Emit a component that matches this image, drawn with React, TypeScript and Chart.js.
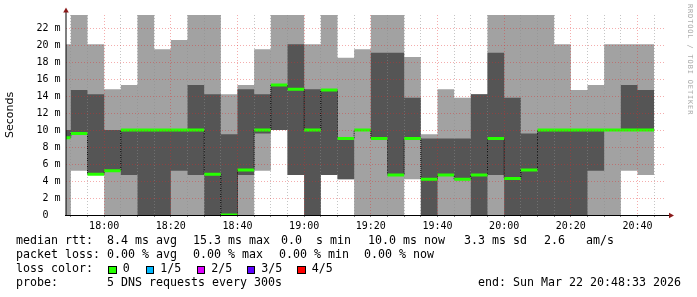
import React, { useEffect, useRef } from 'react';
import { Chart, registerables } from 'chart.js';

Chart.register(...registerables);

// ---------- data ----------
const RANGE_START = '17:48:33';
const RANGE_END = '20:48:33';
const SAMPLE_STARTS = [
  '17:45', '17:50', '17:55', '18:00', '18:05', '18:10', '18:15', '18:20', '18:25',
  '18:30', '18:35', '18:40', '18:45', '18:50', '18:55', '19:00', '19:05', '19:10',
  '19:15', '19:20', '19:25', '19:30', '19:35', '19:40', '19:45', '19:50', '19:55',
  '20:00', '20:05', '20:10', '20:15', '20:20', '20:25', '20:30', '20:35', '20:40',
];
const SAMPLE_END = '20:45';
// five sorted pings per sample (ms): min, 2nd, median, 4th, max
const PING_MIN = [0, 5.2, 4.8, 0, 0, 0, 0, 0, 0, 0, 0, 0, 5.2, 10.0, 4.7, 0, 4.7, 4.2, 0, 0, 0, 4.2, 0, 0, 0, 0, 0, 0, 0, 0, 0, 0, 0, 0, 5.2, 4.7];
const PING_LOW = [9.1, 9.6, 4.8, 5.2, 4.7, 0, 0, 5.2, 4.7, 0, 0, 4.7, 9.6, 10.0, 4.7, 0, 4.7, 4.2, 10.0, 9.0, 4.7, 9.0, 0, 4.7, 4.2, 0, 4.7, 0, 0, 0, 0, 0, 5.2, 10.0, 10.0, 10.0];
const MEDIAN_RTT = [9.1, 9.6, 4.8, 5.2, 10.0, 10.0, 10.0, 10.0, 10.0, 4.8, 0.0, 5.3, 10.0, 15.3, 14.8, 10.0, 14.7, 9.0, 10.0, 9.0, 4.7, 9.0, 4.2, 4.7, 4.2, 4.7, 9.0, 4.3, 5.3, 10.0, 10.0, 10.0, 10.0, 10.0, 10.0, 10.0];
const PING_HIGH = [10.0, 14.7, 14.2, 10.0, 10.0, 10.0, 10.0, 10.0, 15.3, 14.2, 9.5, 14.8, 14.2, 15.3, 20.1, 14.8, 14.7, 9.0, 10.0, 19.1, 19.1, 13.8, 9.0, 9.0, 9.0, 14.2, 19.1, 13.8, 9.6, 10.0, 10.0, 10.0, 10.0, 10.0, 15.3, 14.7];
const PING_MAX = [20.1, 25, 20.1, 14.8, 15.3, 25, 19.5, 20.6, 25, 25, 14.2, 15.3, 19.5, 25, 25, 20.1, 25, 18.5, 19.5, 25, 25, 18.6, 9.5, 14.8, 13.8, 14.2, 25, 25, 25, 25, 20.1, 14.7, 15.3, 20.1, 20.1, 20.1];
const Y_TICKS = [0, 1, 2, 3, 4, 5, 6, 7, 8, 9, 10, 11, 12, 13, 14, 15, 16, 17, 18, 19, 20, 21, 22, 23];
const Y_LABELED = [0, 2, 4, 6, 8, 10, 12, 14, 16, 18, 20, 22];
const X_LABELS = ['18:00', '18:20', '18:40', '19:00', '19:20', '19:40', '20:00', '20:20', '20:40'];
const Y_MAX_MS = 23.53;

const LOSS_LEGEND = ['0', '1/5', '2/5', '3/5', '4/5'];
const LOSS_COLORS = ['#26ff00', '#00b8ff', '#dd00ff', '#5e00ff', '#ff0000'];

// ---------- helpers ----------
const toMin = (s: string) => {
  const [h, m, sec] = s.split(':').map(Number);
  return h * 60 + m + (sec || 0) / 60;
};
const pad2 = (n: number) => String(n).padStart(2, '0');
const fmtTime = (v: number) => `${pad2(Math.floor(v / 60))}:${pad2(Math.round(v % 60))}`;

const W = 697;
const H = 297;
const MONO = '"DejaVu Sans Mono", monospace';
const LEG_SIZE = 11.63;
const MAJOR_GRID = 'rgba(225,40,40,0.38)';
const MINOR_GRID = 'rgba(140,140,140,0.5)';

const axesPlugin = {
  id: 'rrdAxes',
  afterDraw(chart: any) {
    const { ctx, chartArea } = chart;
    const { left, right, top, bottom } = chartArea;
    ctx.save();
    ctx.strokeStyle = '#000';
    ctx.lineWidth = 1;
    ctx.beginPath();
    ctx.moveTo(left, bottom + 1);
    ctx.lineTo(left, top - 4);
    ctx.stroke();
    ctx.beginPath();
    ctx.moveTo(left - 1, bottom + 0.5);
    ctx.lineTo(right + 3, bottom + 0.5);
    ctx.stroke();
    ctx.fillStyle = '#8a1a1a';
    ctx.beginPath();
    ctx.moveTo(left, top - 7.5);
    ctx.lineTo(left + 2.8, top - 2.5);
    ctx.lineTo(left - 2.8, top - 2.5);
    ctx.closePath();
    ctx.fill();
    ctx.beginPath();
    ctx.moveTo(right + 8, bottom + 0.5);
    ctx.lineTo(right + 3, bottom + 0.5 - 2.8);
    ctx.lineTo(right + 3, bottom + 0.5 + 2.8);
    ctx.closePath();
    ctx.fill();
    ctx.restore();
  },
};

export default function App() {
  const ref = useRef<HTMLCanvasElement>(null);

  useEffect(() => {
    const canvas = ref.current;
    if (!canvas) return;
    const starts = SAMPLE_STARTS.map(toMin);
    const end = toMin(SAMPLE_END);
    const xMin = toMin(RANGE_START);
    const xMax = toMin(RANGE_END);
    const stepPts = (vals: number[]) => [
      ...vals.map((v, i) => ({ x: starts[i], y: v })),
      { x: end, y: vals[vals.length - 1] },
    ];
    const medianSegs: any[] = [];
    MEDIAN_RTT.forEach((v, i) => {
      const x2 = i + 1 < starts.length ? starts[i + 1] : end;
      medianSegs.push({ x: starts[i], y: v }, { x: x2, y: v }, { x: x2, y: null });
    });
    const majorX = X_LABELS.map(toMin);
    const minorX: number[] = [];
    for (let t = Math.ceil(xMin / 5) * 5; t <= xMax; t += 5) minorX.push(t);

    const hidden = { borderWidth: 0, borderColor: 'rgba(0,0,0,0)', pointRadius: 0, stepped: 'before' as const };

    const chart = new Chart(canvas, {
      type: 'line',
      data: {
        datasets: [
          {
            label: 'median',
            data: medianSegs,
            borderColor: LOSS_COLORS[0],
            borderWidth: 3,
            borderCapStyle: 'butt',
            pointRadius: 0,
            spanGaps: false,
            fill: false,
            order: 0,
          },
          {
            label: 'median-step',
            data: stepPts(MEDIAN_RTT),
            borderColor: '#000',
            borderWidth: 1,
            borderDash: [1, 1],
            pointRadius: 0,
            stepped: 'before',
            fill: false,
            order: 1,
          },
          { label: 'p2', data: stepPts(PING_LOW), ...hidden, fill: false, order: 2 },
          { label: 'p4', data: stepPts(PING_HIGH), ...hidden, fill: '-1', backgroundColor: '#555555', order: 3 },
          { label: 'p1', data: stepPts(PING_MIN), ...hidden, fill: false, order: 4 },
          { label: 'p5', data: stepPts(PING_MAX), ...hidden, fill: '-1', backgroundColor: '#a2a2a2', order: 5 },
        ] as any,
      },
      options: {
        animation: false,
        responsive: false,
        maintainAspectRatio: false,
        devicePixelRatio: 1,
        events: [],
        layout: { padding: { left: 0, top: 15, right: 31, bottom: 0 } },
        plugins: {
          legend: { display: false },
          tooltip: { enabled: false },
          title: { display: false },
        },
        scales: {
          x: {
            type: 'linear',
            min: xMin,
            max: xMax,
            afterBuildTicks: (s: any) => {
              s.ticks = minorX.map((v) => ({ value: v }));
            },
            afterFit: (s: any) => {
              s.height = H - 215;
              s.paddingLeft = 0;
              s.paddingRight = 0;
            },
            grid: {
              z: 1,
              lineWidth: 1,
              color: (c: any) => (c.tick && majorX.includes(c.tick.value) ? MAJOR_GRID : MINOR_GRID),
              drawTicks: true,
              tickLength: 2,
              tickColor: 'rgba(0,0,0,0.5)',
              tickBorderDash: [],
            },
            border: { display: false, dash: [1, 2] },
            ticks: {
              autoSkip: false,
              maxRotation: 0,
              minRotation: 0,
              padding: 3,
              color: '#000',
              font: { family: MONO, size: 10 },
              callback: (v: any) => (majorX.includes(Number(v)) ? fmtTime(Number(v)) : ''),
            },
          },
          y: {
            type: 'linear',
            min: 0,
            max: Y_MAX_MS,
            afterBuildTicks: (s: any) => {
              s.ticks = Y_TICKS.map((v) => ({ value: v }));
            },
            afterFit: (s: any) => {
              s.width = 66;
              s.paddingTop = 0;
              s.paddingBottom = 0;
            },
            grid: {
              z: 1,
              lineWidth: 1,
              color: (c: any) => (c.tick && Y_LABELED.includes(c.tick.value) ? MAJOR_GRID : MINOR_GRID),
              drawTicks: false,
            },
            border: { display: false, dash: [1, 2] },
            ticks: {
              padding: 5.5,
              color: '#000',
              font: { family: MONO, size: 10 },
              callback: (v: any) => {
                const n = Number(v);
                if (!Y_LABELED.includes(n)) return '';
                return n === 0 ? '0  ' : `${n} m`;
              },
            },
            title: {
              display: true,
              text: 'Seconds',
              color: '#000',
              font: { family: '"DejaVu Sans", sans-serif', size: 11 },
              padding: { top: 4, bottom: 0 },
            },
          },
        },
      } as any,
      plugins: [axesPlugin],
    });
    return () => chart.destroy();
  }, []);

  const txt = (x: number, baseline: number, s: string, extra: any = {}) => (
    <span
      key={`${x}-${baseline}-${s}`}
      style={{
        position: 'absolute',
        left: x,
        top: baseline - 0.846 * LEG_SIZE,
        fontFamily: MONO,
        fontSize: LEG_SIZE,
        lineHeight: `${LEG_SIZE}px`,
        whiteSpace: 'pre',
        color: '#000',
        ...extra,
      }}
    >
      {s}
    </span>
  );

  const squareX = [108, 145.5, 196.5, 246.5, 297];

  return (
    <div style={{ position: 'fixed', left: 0, top: 0, width: W, height: H, background: '#fff', overflow: 'hidden' }}>
      <canvas ref={ref} width={W} height={H} style={{ position: 'absolute', left: 0, top: 0, width: W, height: H }} />
      {txt(16, 245, 'median rtt:  8.4 ms avg')}
      {txt(193, 245, '15.3 ms max')}
      {txt(281, 245, '0.0  s min')}
      {txt(368, 245, '10.0 ms now')}
      {txt(464, 245, '3.3 ms sd')}
      {txt(544, 245, '2.6   am/s')}
      {txt(16, 259, 'packet loss: 0.00 % avg')}
      {txt(193, 259, '0.00 % max')}
      {txt(279, 259, '0.00 % min')}
      {txt(364, 259, '0.00 % now')}
      {txt(16, 273, 'loss color:')}
      {LOSS_LEGEND.map((l, i) => (
        <React.Fragment key={l}>
          <div
            style={{
              position: 'absolute',
              left: squareX[i],
              top: 265.5,
              width: 8.5,
              height: 8.5,
              boxSizing: 'border-box',
              border: '1px solid #000',
              background: LOSS_COLORS[i],
            }}
          />
          {txt(squareX[i] + 14.7, 273, l)}
        </React.Fragment>
      ))}
      {txt(16, 287, 'probe:')}
      {txt(107, 287, '5 DNS requests every 300s')}
      <span
        style={{
          position: 'absolute',
          right: W - 681,
          top: 287 - 0.846 * LEG_SIZE,
          fontFamily: MONO,
          fontSize: LEG_SIZE,
          lineHeight: `${LEG_SIZE}px`,
          whiteSpace: 'pre',
          color: '#000',
        }}
      >
        end: Sun Mar 22 20:48:33 2026
      </span>
      <span
        style={{
          position: 'absolute',
          left: 692.5,
          top: 3.5,
          transformOrigin: '0 0',
          transform: 'rotate(90deg)',
          fontFamily: MONO,
          fontSize: 7,
          lineHeight: '7px',
          letterSpacing: '0.84px',
          whiteSpace: 'pre',
          color: '#a8a8a8',
        }}
      >
        RRDTOOL / TOBI OETIKER
      </span>
    </div>
  );
}
